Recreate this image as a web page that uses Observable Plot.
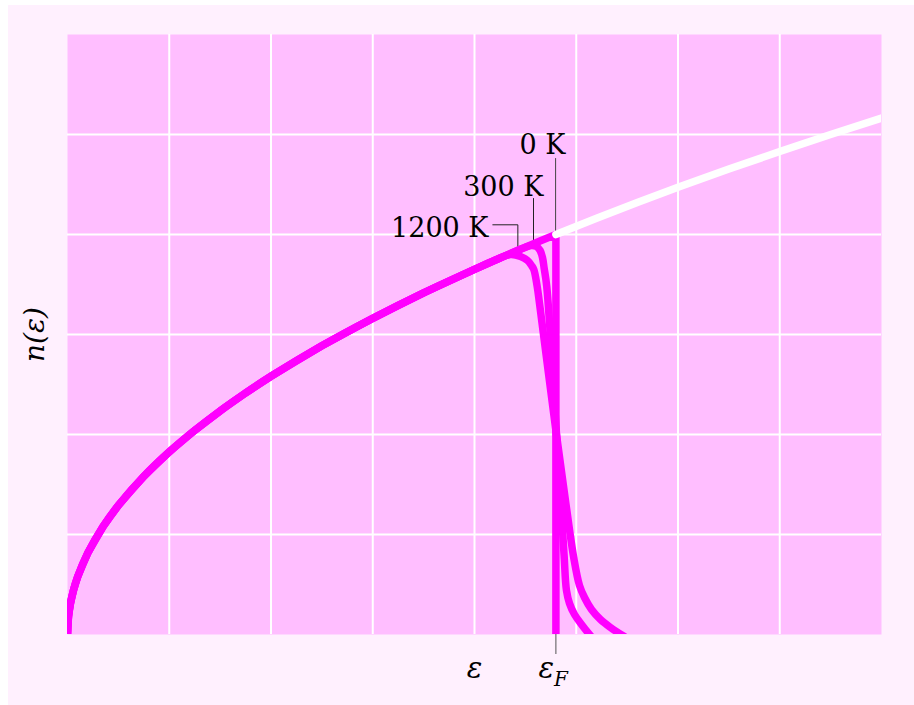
<!DOCTYPE html>
<html>
<head>
<meta charset="utf-8">
<script src="https://cdn.jsdelivr.net/npm/d3@7"></script>
<script src="https://cdn.jsdelivr.net/npm/@observablehq/plot@0.6"></script>
<style>
  html, body { margin: 0; padding: 0; background: #ffffff; }
  #chart svg { display: block; margin: 5px 0 0 8px; }
</style>
</head>
<body>
<div id="chart"></div>
<script>
// ---- data (ε in grid units, n(ε) in grid units) ----
const epsBase = [0, 0.01, 0.03, 0.06, 0.1, 0.2, 0.35, 0.5, 0.75, 1, 1.25, 1.5, 1.75, 2, 2.5, 3, 3.5, 4, 4.2];
const nBase   = [0, 0.183, 0.316, 0.447, 0.577, 0.816, 1.080, 1.291, 1.581, 1.826, 2.041, 2.236, 2.415, 2.582, 2.887, 3.162, 3.416, 3.651, 3.742];

const eps0K  = [4.35, 4.5, 4.65, 4.8, 4.8, 4.8];
const n0K    = [3.808, 3.873, 3.937, 4.0, 3.9, -0.1];

const eps300K = [4.35, 4.5, 4.56, 4.61, 4.645, 4.668, 4.685, 4.71, 4.80, 4.88, 4.904, 4.934, 4.983, 5.052, 5.13, 5.21];
const n300K   = [3.808, 3.873, 3.89, 3.88, 3.84, 3.77, 3.66, 3.48, 2.10, 0.80, 0.44, 0.31, 0.20, 0.10, 0.0, -0.09];

const eps1200K = [4.354, 4.452, 4.521, 4.56, 4.583, 4.616, 4.639, 4.796, 4.894, 4.975, 5.032, 5.081, 5.15, 5.238, 5.337, 5.455, 5.57];
const n1200K   = [3.80, 3.78, 3.74, 3.69, 3.65, 3.48, 3.31, 2.07, 1.34, 0.77, 0.49, 0.37, 0.25, 0.15, 0.07, -0.01, -0.08];

const epsEmpty = [4.8, 5.2, 5.6, 6, 6.5, 7, 7.5, 8];
const nEmpty   = [4.0, 4.163, 4.320, 4.472, 4.655, 4.830, 5.0, 5.164];

const gridXValues = [1, 2, 3, 4, 5, 6, 7];
const gridYValues = [1, 2, 3, 4, 5];

const curveLabels = ["0 K", "300 K", "1200 K"];
const labelEps    = [4.894, 4.678, 4.138];
const labelN      = [4.81, 4.39, 3.973];

const leader0K    = {eps: [4.797, 4.797], n: [4.0, 4.76]};
const leader300K  = {eps: [4.58, 4.58],   n: [3.88, 4.36]};
const leader1200K = {eps: [4.18, 4.426, 4.426], n: [4.097, 4.097, 3.79]};

const epsF = 4.8;
const epsTick = 4;

// ---- build tables ----
const zip = (xs, ys) => xs.map((x, i) => ({x, y: ys[i]}));
const base = zip(epsBase, nBase);
const c0   = base.concat(zip(eps0K, n0K));
const c300 = base.concat(zip(eps300K, n300K));
const c1200 = base.concat(zip(eps1200K, n1200K));
const empty = zip(epsEmpty, nEmpty);
const labels = curveLabels.map((t, i) => ({t, x: labelEps[i], y: labelN[i]}));

const MAG = "#ff00ff";
const serif = "DejaVu Serif";

const lineOpts = {x: "x", y: "y", stroke: MAG, strokeWidth: 7.5, clip: true,
  curve: "catmull-rom", strokeLinejoin: "round", strokeLinecap: "round"};

const chart = Plot.plot({
  width: 906,
  height: 700,
  marginLeft: 59,
  marginTop: 29,
  marginRight: 33,
  marginBottom: 71,
  x: {domain: [0, 8], axis: null},
  y: {domain: [0, 6], axis: null},
  style: {background: "#fff0fe", overflow: "visible"},
  marks: [
    Plot.frame({fill: "#ffbeff", stroke: null}),
    Plot.ruleX(gridXValues, {stroke: "white", strokeWidth: 2}),
    Plot.ruleY(gridYValues, {stroke: "white", strokeWidth: 2}),
    // tick at ε_F
    Plot.ruleX([epsF], {y1: 0, y2: -0.2, stroke: "#555", strokeWidth: 1}),
    // leaders
    Plot.line(zip(leader0K.eps, leader0K.n), {x: "x", y: "y", stroke: "#444", strokeWidth: 1}),
    Plot.line(zip(leader300K.eps, leader300K.n), {x: "x", y: "y", stroke: "#222", strokeWidth: 1}),
    Plot.line(zip(leader1200K.eps, leader1200K.n), {x: "x", y: "y", stroke: "#222", strokeWidth: 1}),
    // curves
    Plot.line(c1200, lineOpts),
    Plot.line(c300, lineOpts),
    Plot.line(c0, {...lineOpts, curve: "linear"}),
    Plot.line(empty, {...lineOpts, stroke: "white", curve: "linear"}),
    // labels
    Plot.text(labels, {x: "x", y: "y", text: "t", textAnchor: "end", lineAnchor: "bottom",
      fontFamily: serif, fontSize: 27, fill: "black"}),
    // x labels
    Plot.text([epsTick], {x: d => d, y: -0.43, text: () => "ε", lineAnchor: "bottom",
      fontFamily: serif, fontStyle: "italic", fontSize: 29, fill: "black"}),
    Plot.text([epsF], {x: d => d, y: -0.43, dx: -9.5, text: () => "ε", lineAnchor: "bottom",
      fontFamily: serif, fontStyle: "italic", fontSize: 29, fill: "black"}),
    Plot.text([epsF], {x: d => d, y: -0.51, dx: -2, text: () => "F", textAnchor: "start", lineAnchor: "bottom",
      fontFamily: serif, fontStyle: "italic", fontSize: 20, fill: "black"}),
    // y label
    Plot.text([3], {y: d => d, frameAnchor: "left", dx: -32, rotate: -90, text: () => "n(ε)",
      textAnchor: "middle", lineAnchor: "middle", fontFamily: serif, fontStyle: "italic", fontSize: 28, fill: "black"})
  ]
});

document.getElementById("chart").appendChild(chart);
</script>
</body>
</html>
